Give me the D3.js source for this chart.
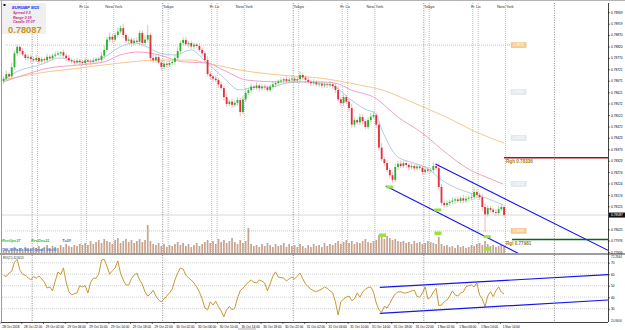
<!DOCTYPE html>
<html>
<head>
<meta charset="utf-8">
<script src="https://cdn.jsdelivr.net/npm/d3@7/dist/d3.min.js"></script>
<style>
  body { margin: 0; background: #fff; }
  svg { display: block; font-family: "Liberation Sans", Arial, sans-serif; }
</style>
</head>
<body>
<svg id="chart" width="625" height="330"></svg>
<script>
// EURGBP, prices in points above 0.78000, one bar per 30 min from 28 Oct 18:30
const openFirst = 670;
const closes = [
  680,700,690,730,790,818,800,785,770,775,
  765,760,770,755,765,760,775,768,780,785,
  790,795,780,770,760,755,750,758,752,748,
  760,755,752,758,765,761,780,805,850,862,
  850,870,885,900,870,845,850,835,845,840,
  879,835,850,870,770,760,774,750,731,745,
  740,748,753,770,800,835,848,830,835,820,
  828,822,805,790,761,700,690,680,674,655,
  639,600,570,580,566,575,587,535,590,618,
  630,645,640,650,638,645,642,631,645,655,
  661,668,672,678,670,676,680,672,678,696,
  685,675,666,660,664,655,658,650,655,652,
  656,648,631,590,574,600,580,552,480,500,
  490,513,495,470,500,515,522,480,380,330,
  313,283,260,240,296,310,300,313,305,295,
  300,290,298,292,274,285,280,283,300,291,
  209,140,130,139,145,150,155,148,160,150,
  158,162,165,187,175,165,122,90,117,110,
  100,96,112,122,87
];
const upWick = [
  10,15,8,20,12,10,6,14,9,12, 8,10,15,7,12,9,14,10,8,12,
  10,6,12,9,15,8,10,12,7,9, 12,8,10,14,9,11,15,20,12,18,
  14,10,16,12,20,9,14,10,12,15, 10,12,18,44,10,14,9,12,8,15,
  10,12,9,14,16,10,12,15,9,11, 10,8,12,9,10,15,12,8,14,9,
  12,10,15,8,14,10,12,9,16,20, 10,12,8,14,9,12,10,8,12,15,
  10,9,12,8,14,10,12,9,11,16, 10,8,12,9,14,10,8,12,9,10,
  14,10,12,16,10,12,8,14,20,12, 10,15,12,9,14,16,12,10,14,20,
  10,12,9,14,16,12,15,10,12,8, 14,10,12,9,10,14,12,10,16,12,
  20,15,10,12,9,14,10,12,9,15, 12,10,16,20,12,10,14,18,12,10,
  9,14,16,12,10
];
const downWick = [
  12,8,14,9,10,12,15,8,10,12, 14,10,8,12,9,15,10,12,8,10,
  8,12,10,14,9,10,12,8,14,10, 9,12,14,8,10,12,9,14,10,12,
  15,10,12,9,14,10,12,16,10,8, 12,15,10,12,14,10,12,8,15,10,
  12,9,10,14,8,12,10,9,14,10, 12,8,10,14,12,10,15,12,9,14,
  10,15,12,9,14,10,12,20,10,12, 9,12,10,8,14,10,12,9,10,8,
  12,10,8,14,9,10,12,8,10,12, 10,14,9,12,10,8,12,10,9,12,
  10,12,15,10,14,12,10,16,14,12, 10,12,14,10,12,9,10,14,12,10,
  12,10,14,14,10,12,9,10,12,14, 10,12,9,10,14,12,10,9,12,10,
  14,12,10,9,12,10,14,9,10,12, 10,9,12,10,14,12,16,77,10,12,
  9,12,10,8,10
];
const volumes = [
  3,4,3,5,6,4,5,4,6,5,4,6,
  5,7,4,6,8,5,7,6,5,8,6,9,7,6,8,7,9,8,
  10,8,12,9,11,13,10,14,12,11,9,13,15,10,12,14,11,13,10,12,14,11,13,
  28,
  12,9,8,10,7,9,6,8,7,9,11,8,10,7,9,6,8,10,7,
  9,11,13,10,12,9,14,11,13,10,12,15,11,9,13,10,12,
  25,
  9,7,8,6,9,7,10,8,6,9,7,8,10,6,9,7,8,6,9,7,5,8,6,9,7,8,6,10,7,9,8,
  10,12,9,11,13,10,12,9,11,10,12,14,11,10,12,13,
  18,16,14,17,15,13,14,12,11,
  12,10,11,9,12,10,11,9,10,12,11,10,9,16,
  9,7,8,6,7,5,8,6,7,5,6,
  8,7,9,10,8,12,9,7,8,6,7,8,6
];
const rsi = [
  59,58,61,62.5,70.5,73,63.5,60,59,57,
  55,58,56.5,58.5,56,53,48,49,45.5,54,
  62,59.5,65.5,53,44.8,42,43,43.7,50,49,
  50,43.7,53,56.5,56.5,60,72.3,73,67,60,
  63,65.4,71.5,61,55,50.6,50.6,56,59.3,61,
  55,51.5,44.5,41,42.8,46,41,37.6,36,38.5,
  41,43.7,47,55,61,65.4,64.5,59.3,56.7,55,
  52.3,49,44.5,38.5,30.6,29,36,33.2,36.5,31.7,
  28,23,29,32,29,30.6,39.3,45.7,47.7,50.6,
  53,55,53,52.3,55,54,52.3,45.7,51.5,58.4,
  62,57.5,57,56.7,54,56,57.5,56,58.4,61,
  56,51.5,49,47,45.5,44.8,46,47,49,47.7,
  45.7,43.7,36,24.5,36,38.5,40,41,37,38.5,
  43.7,40,44.5,47,48.4,49,44.5,35,29,27,
  32,30.6,34.5,39.3,42.8,44.5,44.8,43.7,43.7,44.5,
  45.5,46,40.6,40,43.7,49,38.5,40,44.5,47.7,
  32.8,33.2,36,37.6,41,45.5,42,41,43.7,44.5,
  49,50,50.6,49,52.3,42,38.5,31.7,41,44.8,
  40.6,45.5,49,44.5,42.8
];
// moving averages sampled as [bar, points]
const maFast = [[0,674],[4.6,709],[13.4,740],[20.8,770],[28.1,753],[37,774],[42.8,818],[48.3,835],[52.8,818],[57.2,792],[63,783],[68.9,805],[74.8,748],[80.7,687],[86.6,631],[92.5,644],[98.3,644],[104.2,661],[110.1,666],[116,661],[121.9,644],[127.8,587],[133.6,544],[136.6,531],[139.1,457],[145,339],[150.9,313],[156.8,283],[159.7,252],[165.6,209],[171.5,183],[177.4,161],[183.6,131]];
const maMid = [[0,666],[7.5,696],[16.4,726],[28.1,740],[37,753],[42.8,783],[49.8,796],[57.2,783],[66,753],[74.8,748],[80.7,718],[89.5,674],[101.3,666],[116,666],[121.9,661],[127.8,631],[136.6,596],[145,513],[153.9,444],[162.7,357],[171.5,283],[177.4,252],[183.6,222]];
const maSlow = [[0,674],[13.4,705],[28.1,726],[42.8,748],[57.2,761],[68.9,761],[74.8,748],[86.6,718],[101.3,696],[116,683],[130.7,653],[139.1,631],[150.9,574],[162.7,513],[174.5,444],[184,400]];

const priceTicks = [0.78969,0.78919,0.78870,0.78820,0.78770,0.78721,0.78671,0.78621,0.78572,0.78522,0.78472,0.78423,0.78373,0.78323,0.78274,0.78224,0.78174,0.78125,0.78025,0.77976,0.77926];
const rsiLevels = [70, 60, 50, 40, 30];
const timeLabels = ["28 Oct 2018","28 Oct 22:00","29 Oct 02:00","29 Oct 06:00","29 Oct 10:00","29 Oct 14:00","29 Oct 18:00","29 Oct 22:00","30 Oct 02:00","30 Oct 06:00","30 Oct 10:00","30 Oct 14:00","30 Oct 18:00","30 Oct 22:00","31 Oct 02:00","31 Oct 06:00","31 Oct 10:00","31 Oct 14:00","31 Oct 18:00","31 Oct 22:00","1 Nov 02:00","1 Nov 06:00","1 Nov 10:00","1 Nov 14:00"];
const daySeparators = ["2018-10-29","2018-10-30","2018-10-31","2018-11-01","2018-11-02"];
const sessionDays = ["2018-10-29","2018-10-30","2018-10-31","2018-11-01"];
const sessions = [{ name: "Tokyo", hour: 1 }, { name: "Fr", hour: 9 }, { name: "Lo", hour: 10 }, { name: "New York", hour: 15 }];
const dayLevels = [0.78826, 0.78018];
const maTags = [0.78622, 0.78422, 0.78222];
const rangeHigh = 0.78336, rangeLow = 0.77981;
const lastPrice = 0.78087;
// channel anchors [bar, price] / [bar, rsi]
const channelPrice = [[[158.8, 0.78309], [222.5, 0.77932]], [[140.5, 0.78213], [189.1, 0.77921]]];
const channelRsi = [[[138.3, 48.6], [222.5, 59.6]], [[138.3, 26], [222.5, 37.6]]];
const touchPrice = [[142, 209], [159.6, 109], [177.8, -7]];
const touchVolume = [[139.3, 18], [159.7, 20], [177.8, 4.5]];

const svg = d3.select("#chart");
const P = { left: 2, right: 608, top: 3, bottom: 253 };
const R = { top: 255, bottom: 322 };
const infoBox = { x: 2, y: 3, w: 44, h: 31 };

const pt = (v) => 0.78 + v / 1e5;
const t0 = Date.UTC(2018, 9, 28, 18, 0);
const HALF = 30 * 60 * 1000, HOUR = 2 * HALF;
const x = d3.scaleUtc().domain([t0, t0 + 48 * HALF]).range([-0.5, 130.06]);
const bw = x(t0 + HALF) - x(t0);
const barX = (i) => x(t0 + (i + 1) * HALF);
const barC = (i) => barX(i) + bw / 2;
const edgeBar = (P.right - barC(0)) / bw;

const y = d3.scaleLinear().domain([0.77922, 0.79009]).range([P.bottom, P.top]);
const yV = d3.scaleLinear().domain([0, 40]).range([P.bottom, P.bottom - 40]);
const yR = d3.scaleLinear().domain([18.43, 76.7]).range([R.bottom, R.top]);

const defs = svg.append("defs");
defs.append("clipPath").attr("id", "clipMain").append("rect")
  .attr("x", P.left).attr("y", P.top).attr("width", P.right - P.left).attr("height", P.bottom - P.top);
defs.append("clipPath").attr("id", "clipRsi").append("rect")
  .attr("x", P.left).attr("y", R.top).attr("width", P.right - P.left).attr("height", R.bottom - R.top);

// frame
svg.append("line").attr("x1", 0).attr("x2", 625).attr("y1", 0.5).attr("y2", 0.5).attr("stroke", "#b4b4b4");
svg.append("line").attr("x1", 1.5).attr("x2", 1.5).attr("y1", 1).attr("y2", R.bottom).attr("stroke", "#9a9a9a");
svg.append("rect").attr("x", 0).attr("y", P.bottom).attr("width", 625).attr("height", 2).attr("fill", "#9c9c9c");
svg.append("rect").attr("x", 238).attr("y", 328).attr("width", 18).attr("height", 2).attr("fill", "#d6d6d6");

const main = svg.append("g").attr("clip-path", "url(#clipMain)");
const low = svg.append("g").attr("clip-path", "url(#clipRsi)");

// day separators through both panels
daySeparators.forEach((d) => {
  const xx = x(Date.parse(d));
  svg.append("line").attr("x1", xx).attr("x2", xx).attr("y1", P.top).attr("y2", R.bottom)
    .attr("stroke", "#6e6e6e").attr("stroke-width", 0.8).attr("stroke-dasharray", "1,1.4");
});

// session opens (labels under the info box stay hidden)
sessionDays.forEach((d) => {
  sessions.forEach((s) => {
    const xx = x(Date.parse(d) + s.hour * HOUR);
    main.append("line").attr("x1", xx).attr("x2", xx).attr("y1", P.top).attr("y2", P.bottom)
      .attr("stroke", "#b3b38a").attr("stroke-width", 0.8).attr("stroke-dasharray", "1,1");
    if (xx > infoBox.x + infoBox.w + 4) {
      svg.append("text").attr("x", xx).attr("y", 8).attr("text-anchor", "middle")
        .attr("font-size", 4).attr("fill", "#333").text(s.name);
    }
  });
});

// horizontal levels
const lineEnd = barC(closes.length - 1) + 6;
main.append("line").attr("x1", P.left).attr("x2", P.right).attr("y1", y(lastPrice)).attr("y2", y(lastPrice))
  .attr("stroke", "#cfcfcf").attr("stroke-width", 0.8);
dayLevels.forEach((v) => {
  main.append("line").attr("x1", 5).attr("x2", lineEnd).attr("y1", y(v)).attr("y2", y(v))
    .attr("stroke", "#f0b457").attr("stroke-width", 0.8).attr("stroke-dasharray", "1,1");
  svg.append("rect").attr("x", lineEnd + 1).attr("y", y(v) - 2.3).attr("width", 15).attr("height", 4.6)
    .attr("fill", "#f9cc8f").attr("stroke", "#f0b060").attr("stroke-width", 0.5);
  svg.append("text").attr("x", lineEnd + 8.5).attr("y", y(v) + 1.1).attr("text-anchor", "middle")
    .attr("font-size", 3).attr("fill", "#fff").text(d3.format(".5f")(v));
});
maTags.forEach((v) => {
  svg.append("rect").attr("x", lineEnd + 1).attr("y", y(v) - 2.3).attr("width", 15).attr("height", 4.6)
    .attr("fill", "#e3ecef").attr("stroke", "#cddbe0").attr("stroke-width", 0.5);
  svg.append("text").attr("x", lineEnd + 8.5).attr("y", y(v) + 1.1).attr("text-anchor", "middle")
    .attr("font-size", 3).attr("fill", "#fff").text(d3.format(".5f")(v));
});

// moving averages
const maLine = d3.line().x((d) => barC(d[0])).y((d) => y(pt(d[1]))).curve(d3.curveMonotoneX);
[[maSlow, "#f4c98d"], [maMid, "#f0a2c9"], [maFast, "#b5cfe0"]].forEach(([data, color]) => {
  main.append("path").attr("d", maLine(data)).attr("fill", "none").attr("stroke", color).attr("stroke-width", 1);
});

// volume
main.selectAll("rect.vol").data(volumes).join("rect").attr("class", "vol")
  .attr("x", (d, i) => barX(i) + 0.5).attr("width", bw - 1)
  .attr("y", (d) => yV(d)).attr("height", (d) => yV(0) - yV(d))
  .attr("fill", "#c7a48f");

// candles
const bars = closes.map((c, i) => {
  const o = i === 0 ? openFirst : closes[i - 1];
  return { i, o, c, h: Math.max(o, c) + upWick[i], l: Math.min(o, c) - downWick[i] };
});
main.selectAll("line.wick").data(bars).join("line").attr("class", "wick")
  .attr("x1", (d) => barC(d.i)).attr("x2", (d) => barC(d.i))
  .attr("y1", (d) => y(pt(d.h))).attr("y2", (d) => y(pt(d.l)))
  .attr("stroke", (d) => (d.c >= d.o ? "#80cf80" : "#f29aa5")).attr("stroke-width", 0.7);
main.selectAll("rect.body").data(bars).join("rect").attr("class", "body")
  .attr("x", (d) => barX(d.i) + 0.45).attr("width", bw - 0.9)
  .attr("y", (d) => y(pt(Math.max(d.o, d.c))))
  .attr("height", (d) => Math.max(0.7, Math.abs(y(pt(d.o)) - y(pt(d.c)))))
  .attr("fill", (d) => (d.c >= d.o ? "#2fae2f" : "#e3303f"));

// channels, extended to the right edge
function extend(a, b) {
  const k = (b[1] - a[1]) / (b[0] - a[0]);
  return [a, [edgeBar, a[1] + k * (edgeBar - a[0])]];
}
channelPrice.forEach(([a, b]) => {
  const [p, q] = extend(a, b);
  main.append("line").attr("x1", barC(p[0])).attr("y1", y(p[1])).attr("x2", barC(q[0])).attr("y2", y(q[1]))
    .attr("stroke", "#1414f0").attr("stroke-width", 1.1);
});

touchPrice.forEach(([i, v]) => {
  main.append("rect").attr("x", barC(i) - 3.5).attr("y", y(pt(v)) - 1.5).attr("width", 7).attr("height", 3)
    .attr("fill", "#9be13a");
});
touchVolume.forEach(([i, v]) => {
  main.append("rect").attr("x", barC(i) - 3.5).attr("y", yV(v) - 1.5).attr("width", 7).attr("height", 3.5)
    .attr("fill", "#9be13a");
});

// range lines
main.append("line").attr("x1", barC(closes.length - 1)).attr("x2", P.right).attr("y1", y(rangeHigh)).attr("y2", y(rangeHigh))
  .attr("stroke", "#b00a0a").attr("stroke-width", 1.6);
main.append("line").attr("x1", lineEnd + 2).attr("x2", P.right).attr("y1", y(rangeLow)).attr("y2", y(rangeLow))
  .attr("stroke", "#0a6a0a").attr("stroke-width", 1.6);
svg.append("text").attr("x", lineEnd - 4).attr("y", y(rangeHigh) + 5.5).attr("font-size", 4.6).attr("font-weight", "bold")
  .attr("fill", "#9a7a1a").text("Rgh  " + d3.format(".5f")(rangeHigh));
svg.append("text").attr("x", lineEnd - 4).attr("y", y(rangeLow) + 5.5).attr("font-size", 4.6).attr("font-weight", "bold")
  .attr("fill", "#9a7a1a").text("Rgl  " + d3.format(".5f")(rangeLow));

// RSI panel
rsiLevels.forEach((v) => {
  low.append("line").attr("x1", P.left).attr("x2", P.right).attr("y1", yR(v)).attr("y2", yR(v))
    .attr("stroke", "#c4c4c4").attr("stroke-width", 0.7).attr("stroke-dasharray", "1,1");
});
low.append("path")
  .attr("d", d3.line().x((d, i) => barC(i)).y((d) => yR(d))(rsi))
  .attr("fill", "none").attr("stroke", "#bf8f1d").attr("stroke-width", 0.9);
channelRsi.forEach(([a, b]) => {
  low.append("line").attr("x1", barC(a[0])).attr("y1", yR(a[1])).attr("x2", barC(b[0])).attr("y2", yR(b[1]))
    .attr("stroke", "#1414f0").attr("stroke-width", 1.2);
});
svg.append("text").attr("x", 3).attr("y", 258.5).attr("font-size", 2.8).attr("fill", "#333").text("RSI(21) 42.8403");

// info box
svg.append("rect").attr("x", infoBox.x).attr("y", infoBox.y).attr("width", infoBox.w).attr("height", infoBox.h).attr("fill", "#f0f0f0");
svg.append("rect").attr("x", 3.5).attr("y", 4).attr("width", 2).attr("height", 2).attr("fill", "#111");
svg.append("text").attr("x", 12).attr("y", 9.2).attr("font-size", 4.2).attr("font-weight", "bold").attr("font-style", "italic")
  .attr("fill", "#1b1bff").text("EURGBP  M15");
[["Spread  0.5", 14], ["Range  0.39", 18.6], ["Candle  07:07", 23.2]].forEach(([t, yy]) => {
  svg.append("text").attr("x", 13).attr("y", yy).attr("font-size", 3.5).attr("font-weight", "bold").attr("font-style", "italic")
    .attr("fill", "#c4208e").text(t);
});
svg.append("text").attr("x", 8).attr("y", 32.6).attr("font-size", 9.3).attr("font-weight", "bold")
  .attr("fill", "#c99420").text(d3.format(".5f")(lastPrice));

// volume labels
svg.append("text").attr("x", 2).attr("y", 241.6).attr("font-size", 3.8).attr("font-weight", "bold").attr("font-style", "italic")
  .attr("fill", "#1fbf1f").text("RevUps37");
svg.append("text").attr("x", 31).attr("y", 241.6).attr("font-size", 3.8).attr("font-weight", "bold").attr("font-style", "italic")
  .attr("fill", "#1fbf1f").text("RevDns21");
svg.append("text").attr("x", 62).attr("y", 241.6).attr("font-size", 3.8).attr("font-weight", "bold").attr("font-style", "italic")
  .attr("fill", "#2a6cf0").text("T=20");
svg.append("text").attr("x", 2).attr("y", 251.3).attr("font-size", 3).attr("font-weight", "bold")
  .attr("fill", "#3a7be0").text("TMS  3d0Rsi45 ,Sbs20  ,0bsv41 ,0bsv50");

// axes
function styleAxis(g) {
  g.attr("font-size", 3.2).attr("font-family", "Liberation Sans, Arial, sans-serif");
  g.selectAll("line").attr("stroke", "#222").attr("stroke-width", 0.6);
  g.select(".domain").remove();
}
svg.append("g").attr("transform", `translate(${P.right},0)`)
  .call(d3.axisRight(y).tickValues(priceTicks).tickSize(2).tickPadding(1).tickFormat(d3.format(".5f")))
  .call(styleAxis);
svg.append("g").attr("transform", `translate(${P.right},0)`)
  .call(d3.axisRight(yR).tickValues(rsiLevels).tickSize(2).tickPadding(1))
  .call(styleAxis);
svg.append("g").attr("transform", `translate(0,${R.bottom})`)
  .call(d3.axisBottom(x).tickValues(timeLabels.map((d, i) => t0 + i * 4 * HOUR)).tickSize(2).tickPadding(1.5)
    .tickFormat((d, i) => timeLabels[i]))
  .call(styleAxis)
  .call((g) => g.selectAll("text").attr("text-anchor", "start").attr("x", 2.2));

svg.append("line").attr("x1", P.right + 0.5).attr("x2", P.right + 0.5).attr("y1", P.top).attr("y2", R.bottom)
  .attr("stroke", "#111").attr("stroke-width", 0.8);
svg.append("line").attr("x1", 1).attr("x2", P.right).attr("y1", R.bottom + 0.5).attr("y2", R.bottom + 0.5)
  .attr("stroke", "#111").attr("stroke-width", 0.8);

// last price tag and RSI extremes
svg.append("rect").attr("x", P.right + 1).attr("y", y(lastPrice) - 2.5).attr("width", 16).attr("height", 5).attr("fill", "#111");
svg.append("text").attr("x", P.right + 3).attr("y", y(lastPrice) + 1.2).attr("font-size", 3.3).attr("fill", "#fff")
  .text(d3.format(".5f")(lastPrice));
svg.append("text").attr("x", P.right + 3).attr("y", R.top + 3).attr("font-size", 3).attr("fill", "#222").text("72.2844");
svg.append("text").attr("x", P.right + 3).attr("y", R.bottom - 0.5).attr("font-size", 3).attr("fill", "#222").text("20.8400");
</script>
</body>
</html>
